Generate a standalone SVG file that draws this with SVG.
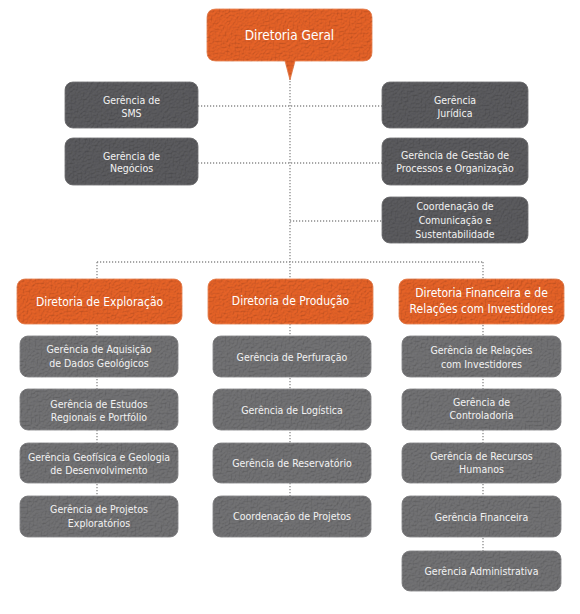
<svg xmlns="http://www.w3.org/2000/svg" width="580" height="614" viewBox="0 0 580 614">
<defs>
<filter id="tex" x="-2%" y="-2%" width="104%" height="104%">
<feTurbulence type="fractalNoise" baseFrequency="0.5" numOctaves="3" seed="7" result="n"/>
<feDiffuseLighting in="n" lighting-color="#ffffff" surfaceScale="2.6" result="l"><feDistantLight azimuth="235" elevation="55"/></feDiffuseLighting>
<feComposite in="SourceGraphic" in2="l" operator="arithmetic" k1="0.4" k2="0.68" k3="0" k4="0"/>
</filter>
<style>
.bg{fill:#ffffff}
.or{fill:#de5f27;stroke:#ec8a5c;stroke-width:0.8;filter:url(#tex)}
.dk{fill:#58585b;stroke:#7a7a7c;stroke-width:0.8;filter:url(#tex)}
.lt{fill:#6e6e70;stroke:#8c8c8e;stroke-width:0.8;filter:url(#tex)}
.t{font-family:"DejaVu Sans Condensed","Liberation Sans Narrow","Liberation Sans",sans-serif;text-anchor:middle;fill:#f2f2f2;font-size:10.5px}
.tb{font-size:12px;fill:#ffffff}
.tg{font-size:13.5px;fill:#ffffff}
.c{fill:none;stroke:#8a8a8a;stroke-width:1.3;stroke-dasharray:1.2 1.8}
</style>
</defs>
<rect class="bg" x="0" y="0" width="580" height="614"/>
<g id="connectors">
<line class="c" x1="290" y1="78" x2="290" y2="279"/>
<line class="c" x1="198" y1="106" x2="382" y2="106"/>
<line class="c" x1="198" y1="163" x2="382" y2="163"/>
<line class="c" x1="290" y1="221" x2="382" y2="221"/>
<line class="c" x1="97" y1="262" x2="483" y2="262"/>
<line class="c" x1="97" y1="262" x2="97" y2="496"/>
<line class="c" x1="290" y1="324" x2="290" y2="496"/>
<line class="c" x1="483" y1="262" x2="483" y2="551"/>
</g>
<g id="diretoria-geral">
<path class="or" d="M216,9 H363 Q372,9 372,18 V52 Q372,61 363,61 H295 L290,80 L285,61 H216 Q207,61 207,52 V18 Q207,9 216,9 Z"/>
<text class="t tg" x="289.5" y="40">Diretoria Geral</text>
</g>
<g id="gerencia-sms">
<rect class="dk" x="65" y="82" width="133" height="46" rx="8"/>
<text class="t" x="131.5" y="104">Gerência de</text>
<text class="t" x="131.5" y="117">SMS</text>
</g>
<g id="gerencia-negocios">
<rect class="dk" x="65" y="138" width="133" height="47" rx="8"/>
<text class="t" x="131.5" y="160">Gerência de</text>
<text class="t" x="131.5" y="172">Negócios</text>
</g>
<g id="gerencia-juridica">
<rect class="dk" x="382" y="82" width="146" height="46" rx="8"/>
<text class="t" x="455" y="104">Gerência</text>
<text class="t" x="455" y="117">Jurídica</text>
</g>
<g id="gerencia-gestao">
<rect class="dk" x="382" y="138" width="146" height="47" rx="8"/>
<text class="t" x="455" y="159">Gerência de Gestão de</text>
<text class="t" x="455" y="172">Processos e Organização</text>
</g>
<g id="coordenacao-comunicacao">
<rect class="dk" x="382" y="197" width="146" height="46" rx="8"/>
<text class="t" x="455" y="210">Coordenação de</text>
<text class="t" x="455" y="224">Comunicação e</text>
<text class="t" x="455" y="238">Sustentabilidade</text>
</g>
<g id="diretoria-exploracao">
<rect class="or" x="17" y="279" width="165" height="45" rx="8"/>
<text class="t tb" x="99.5" y="306">Diretoria de Exploração</text>
</g>
<g id="diretoria-producao">
<rect class="or" x="208" y="279" width="165" height="45" rx="8"/>
<text class="t tb" x="290.5" y="305">Diretoria de Produção</text>
</g>
<g id="diretoria-financeira">
<rect class="or" x="399" y="279" width="165" height="45" rx="8"/>
<text class="t tb" x="481.5" y="297">Diretoria Financeira e de</text>
<text class="t tb" x="481.5" y="313">Relações com Investidores</text>
</g>
<g id="gerencia-aquisicao">
<rect class="lt" x="20" y="336" width="158" height="41" rx="8"/>
<text class="t" x="99" y="353">Gerência de Aquisição</text>
<text class="t" x="99" y="367">de Dados Geológicos</text>
</g>
<g id="gerencia-estudos">
<rect class="lt" x="20" y="389" width="158" height="41" rx="8"/>
<text class="t" x="99" y="408">Gerência de Estudos</text>
<text class="t" x="99" y="421">Regionais e Portfólio</text>
</g>
<g id="gerencia-geofisica">
<rect class="lt" x="20" y="443" width="158" height="40" rx="8"/>
<text class="t" x="99" y="461">Gerência Geofísica e Geologia</text>
<text class="t" x="99" y="474">de Desenvolvimento</text>
</g>
<g id="gerencia-projetos-exploratorios">
<rect class="lt" x="20" y="496" width="158" height="41" rx="8"/>
<text class="t" x="99" y="513">Gerência de Projetos</text>
<text class="t" x="99" y="527">Exploratórios</text>
</g>
<g id="gerencia-perfuracao">
<rect class="lt" x="213" y="336" width="158" height="41" rx="8"/>
<text class="t" x="292" y="361">Gerência de Perfuração</text>
</g>
<g id="gerencia-logistica">
<rect class="lt" x="213" y="389" width="158" height="41" rx="8"/>
<text class="t" x="292" y="414">Gerência de Logística</text>
</g>
<g id="gerencia-reservatorio">
<rect class="lt" x="213" y="443" width="158" height="40" rx="8"/>
<text class="t" x="292" y="467">Gerência de Reservatório</text>
</g>
<g id="coordenacao-projetos">
<rect class="lt" x="213" y="496" width="158" height="41" rx="8"/>
<text class="t" x="292" y="520">Coordenação de Projetos</text>
</g>
<g id="gerencia-relacoes">
<rect class="lt" x="402" y="336" width="159" height="41" rx="8"/>
<text class="t" x="481.5" y="354">Gerência de Relações</text>
<text class="t" x="481.5" y="368">com Investidores</text>
</g>
<g id="gerencia-controladoria">
<rect class="lt" x="402" y="389" width="159" height="41" rx="8"/>
<text class="t" x="481.5" y="406">Gerência de</text>
<text class="t" x="481.5" y="419">Controladoria</text>
</g>
<g id="gerencia-rh">
<rect class="lt" x="402" y="443" width="159" height="40" rx="8"/>
<text class="t" x="481.5" y="460">Gerência de Recursos</text>
<text class="t" x="481.5" y="473">Humanos</text>
</g>
<g id="gerencia-financeira">
<rect class="lt" x="402" y="496" width="159" height="41" rx="8"/>
<text class="t" x="481.5" y="521">Gerência Financeira</text>
</g>
<g id="gerencia-administrativa">
<rect class="lt" x="402" y="551" width="159" height="40" rx="8"/>
<text class="t" x="481.5" y="575">Gerência Administrativa</text>
</g>
</svg>
